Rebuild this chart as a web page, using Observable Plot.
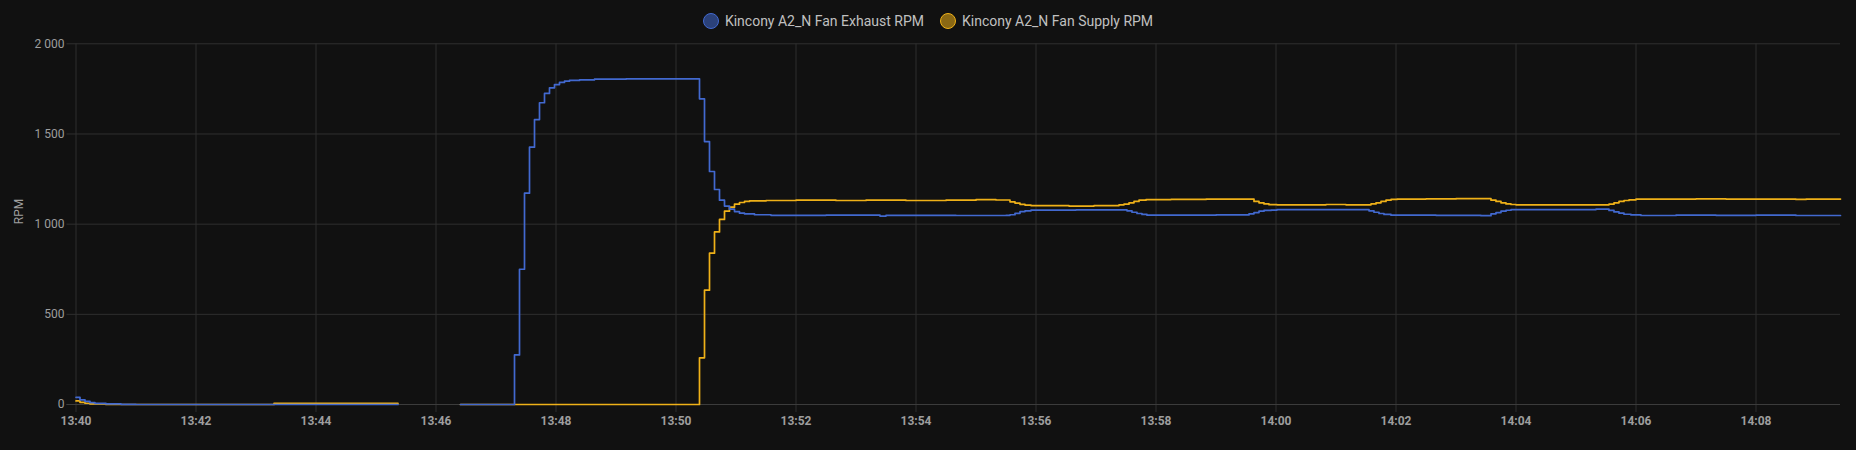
<!DOCTYPE html>
<html>
<head>
<meta charset="utf-8">
<script src="https://cdn.jsdelivr.net/npm/d3@7"></script>
<script src="https://cdn.jsdelivr.net/npm/@observablehq/plot@0.6"></script>
<style>
  html, body { margin: 0; padding: 0; background: #111111; }
  body { width: 1856px; height: 450px; overflow: hidden; font-family: Roboto, "Noto Sans", sans-serif; }
  #legend { height: 30px; box-sizing: border-box; padding-top: 12px; display: flex; justify-content: center; align-items: center; gap: 16px; }
  .item { display: flex; align-items: center; height: 14px; font-size: 14px; color: #c0c0c0; line-height: 14px; }
  .dot { flex: none; box-sizing: border-box; width: 16px; height: 16px; border-radius: 50%; border: 1.5px solid; margin-right: 6px; }
  #chart svg { display: block; }
</style>
</head>
<body>
<div id="legend"></div>
<div id="chart"></div>
<script>
// ---- data ----
const seriesNames = ["Kincony A2_N Fan Exhaust RPM", "Kincony A2_N Fan Supply RPM"];
const seriesColors = ["#4269d0", "#efb118"];
const yTicks = [0, 500, 1000, 1500, 2000];
const xTicks = ["13:40","13:42","13:44","13:46","13:48","13:50","13:52","13:54","13:56","13:58","14:00","14:02","14:04","14:06","14:08"];
const xDomain = ["13:40:00", "14:09:24.5"];

const exhaustRpm = [
  ["13:40:00", 40], ["13:40:04", 26], ["13:40:09", 17], ["13:40:14", 10], ["13:40:19", 6],
  ["13:40:30", 3], ["13:40:45", 1], ["13:41:00", 0], ["13:45:22", 0], ["13:45:22", null],
  ["13:46:24.5", 0],
  ["13:47:18.5", 275], ["13:47:23.5", 750], ["13:47:28.5", 1172], ["13:47:33.5", 1427],
  ["13:47:38.5", 1580], ["13:47:43.5", 1673], ["13:47:48.5", 1725], ["13:47:53.5", 1756],
  ["13:47:58.5", 1774], ["13:48:03.5", 1786], ["13:48:08.5", 1793], ["13:48:13.5", 1797],
  ["13:48:23.5", 1800], ["13:48:38.5", 1804], ["13:49:10", 1806], ["13:49:40", 1805],
  ["13:50:00", 1806],
  ["13:50:23.5", 1695], ["13:50:28.5", 1458], ["13:50:33.5", 1292], ["13:50:38.5", 1192],
  ["13:50:43.5", 1133], ["13:50:48.5", 1100], ["13:50:53.5", 1083], ["13:50:58.5", 1070],
  ["13:51:03.5", 1061], ["13:51:08.5", 1057], ["13:51:18.5", 1052], ["13:51:35", 1049],
  ["13:52:30", 1050], ["13:53:24", 1045], ["13:53:30", 1049], ["13:54:40", 1048],
  ["13:55:30", 1049], ["13:55:34", 1052], ["13:55:39", 1060], ["13:55:44", 1070],
  ["13:55:49", 1074], ["13:55:55", 1078], ["13:56:40", 1079],
  ["13:57:31", 1074], ["13:57:36", 1066], ["13:57:41", 1059], ["13:57:46", 1054],
  ["13:57:51", 1050], ["13:59:00", 1051],
  ["13:59:33", 1057], ["13:59:38", 1064], ["13:59:43", 1072], ["13:59:48", 1076],
  ["13:59:55", 1078], ["14:00:01", 1081],
  ["14:01:33", 1074], ["14:01:38", 1066], ["14:01:43", 1059], ["14:01:48", 1054],
  ["14:01:55", 1050], ["14:02:40", 1049], ["14:03:25", 1047],
  ["14:03:35", 1057], ["14:03:40", 1064], ["14:03:45", 1072], ["14:03:50", 1077],
  ["14:03:55", 1080], ["14:04:00", 1081], ["14:05:20", 1083],
  ["14:05:33", 1076], ["14:05:38", 1068], ["14:05:43", 1061], ["14:05:48", 1055],
  ["14:05:55", 1051], ["14:06:05", 1048], ["14:06:40", 1050], ["14:07:20", 1049],
  ["14:08:00", 1050], ["14:08:40", 1048], ["14:09:24.5", 1048]
];

const supplyRpm = [
  ["13:40:00", 20], ["13:40:04", 12], ["13:40:09", 7], ["13:40:14", 3], ["13:40:30", 0],
  ["13:43:18", 6], ["13:45:22", 6], ["13:45:22", null],
  ["13:46:24.5", 0],
  ["13:50:23.5", 259], ["13:50:28.5", 634], ["13:50:33.5", 839], ["13:50:38.5", 957],
  ["13:50:43.5", 1026], ["13:50:48.5", 1072], ["13:50:53.5", 1094], ["13:50:58.5", 1111],
  ["13:51:03.5", 1120], ["13:51:08.5", 1126], ["13:51:13.5", 1129], ["13:51:30", 1131],
  ["13:52:00", 1133], ["13:52:40", 1131], ["13:53:10", 1133], ["13:53:50", 1131],
  ["13:54:30", 1133], ["13:55:00", 1136], ["13:55:20", 1134],
  ["13:55:34", 1124], ["13:55:39", 1117], ["13:55:44", 1110], ["13:55:49", 1106],
  ["13:55:55", 1103], ["13:56:33", 1100], ["13:56:58", 1103],
  ["13:57:23", 1107], ["13:57:28", 1111], ["13:57:33", 1118], ["13:57:38", 1126],
  ["13:57:43", 1133], ["13:57:50", 1136], ["13:58:15", 1137], ["13:58:50", 1139],
  ["13:59:38", 1126], ["13:59:43", 1118], ["13:59:48", 1112], ["13:59:53", 1108],
  ["14:00:01", 1107], ["14:00:50", 1109], ["14:01:10", 1107],
  ["14:01:35", 1112], ["14:01:40", 1118], ["14:01:45", 1126], ["14:01:50", 1133],
  ["14:01:55", 1137], ["14:02:01", 1139], ["14:02:30", 1140], ["14:03:00", 1141],
  ["14:03:35", 1133], ["14:03:40", 1126], ["14:03:45", 1118], ["14:03:50", 1112],
  ["14:03:55", 1109], ["14:04:00", 1107],
  ["14:05:33", 1111], ["14:05:38", 1118], ["14:05:43", 1126], ["14:05:48", 1131],
  ["14:05:53", 1135], ["14:06:00", 1139], ["14:07:00", 1140], ["14:07:30", 1139],
  ["14:08:40", 1137], ["14:08:50", 1139], ["14:09:24.5", 1139]
];

// ---- helpers ----
function toDate(s) {
  const p = s.split(":").map(Number);
  return new Date(Date.UTC(2024, 0, 1, p[0], p[1], 0) + (p[2] || 0) * 1000);
}
const toRows = (arr) => arr.map(([t, v]) => ({t: toDate(t), v}));
const exhaust = toRows(exhaustRpm);
const supply = toRows(supplyRpm);
const fmtY = (n) => d3.format(",")(n).replace(/,/g, " ");

// ---- legend ----
const legend = document.getElementById("legend");
seriesNames.forEach((name, i) => {
  const item = document.createElement("div");
  item.className = "item";
  const dot = document.createElement("span");
  dot.className = "dot";
  dot.style.borderColor = seriesColors[i];
  dot.style.background = d3.color(seriesColors[i]).copy({opacity: 0.55}).formatRgb();
  item.appendChild(dot);
  item.appendChild(document.createTextNode(name));
  legend.appendChild(item);
});

// ---- chart ----
const gridColor = "#2f2f2f";
const chart = Plot.plot({
  width: 1856,
  height: 420,
  marginTop: 13.3,
  marginBottom: 46,
  marginLeft: 75.5,
  marginRight: 16,
  style: {background: "#111111", color: "#9e9e9e", fontFamily: "Roboto, sans-serif", fontSize: "12px", overflow: "visible"},
  x: {type: "utc", domain: xDomain.map(toDate)},
  y: {domain: [0, 2000]},
  marks: [
    Plot.ruleY(yTicks, {stroke: gridColor, insetLeft: -9}),
    Plot.ruleX(xTicks.map(toDate), {stroke: gridColor, insetBottom: -8}),
    Plot.ruleY([0], {stroke: "#3c3c3c", insetLeft: -9}),
    Plot.axisY({ticks: yTicks, tickSize: 0, tickPadding: 11.5, tickFormat: fmtY, label: null}),
    Plot.axisX({ticks: xTicks.map(toDate), tickSize: 0, tickPadding: 12, tickFormat: d3.utcFormat("%H:%M"), fontWeight: "bold", label: null}),
    Plot.text(["RPM"], {frameAnchor: "left", dx: -56.5, rotate: -90, fill: "#9e9e9e", fontSize: 12}),
    Plot.line(supply, {x: "t", y: "v", curve: "step-after", stroke: seriesColors[1], strokeWidth: 1.7}),
    Plot.line(exhaust, {x: "t", y: "v", curve: "step-after", stroke: seriesColors[0], strokeWidth: 1.7})
  ]
});
document.getElementById("chart").appendChild(chart);
</script>
</body>
</html>
